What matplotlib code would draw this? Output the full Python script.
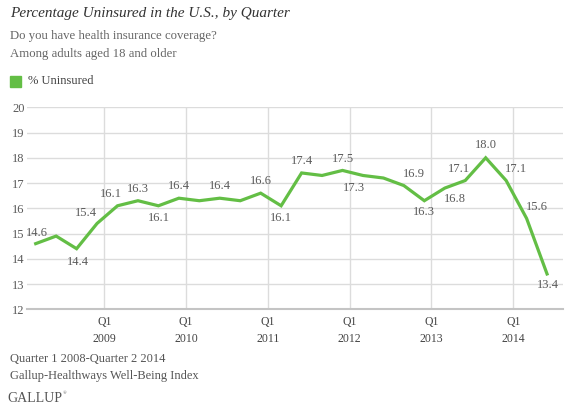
import matplotlib
matplotlib.use("Agg")
import matplotlib.pyplot as plt
from matplotlib.patches import Rectangle
import numpy as np

# quarterly values, Q1 2008 .. Q2 2014
uninsured = [14.6, 14.9, 14.4, 15.4, 16.1, 16.3, 16.1, 16.4, 16.3, 16.4, 16.3, 16.6, 16.1,
             17.4, 17.3, 17.5, 17.3, 17.2, 16.9, 16.3, 16.8, 17.1, 18.0, 17.1, 15.6, 13.4]
years = ["2009", "2010", "2011", "2012", "2013", "2014"]
yticks = [12, 13, 14, 15, 16, 17, 18, 19, 20]

# which points get a label and where it sits (pixels from the point)
label_offsets = {0: (1, 11), 2: (1, -13), 3: (-11, 10), 4: (-7, 12), 5: (0, 12),
                 6: (1, -12), 7: (0, 12), 9: (0, 12), 11: (0, 12), 12: (0, -12),
                 13: (0, 12), 15: (0, 11), 16: (-9, -13), 18: (10, 12), 19: (0, -11),
                 20: (10, -11), 21: (-6, 12), 22: (0, 13), 23: (10, 12), 24: (10, 11),
                 25: (1, -11)}

green = "#63be45"
grey = "#5a5a5a"
serif = ["Liberation Serif", "DejaVu Serif"]
plt.rcParams['font.family'] = serif

W, H = 570, 417
fig = plt.figure(figsize=(W / 100, H / 100), dpi=100)
ax = fig.add_axes([27.3 / W, 1 - 309.3 / H, (563 - 27.3) / W, (309.3 - 107.3) / H])

x = np.arange(len(uninsured))
ax.plot(x, uninsured, color=green, lw=2.3, solid_joinstyle='miter', zorder=3)

for i, (dx, dy) in label_offsets.items():
    ax.annotate("%.1f" % uninsured[i], (x[i], uninsured[i]), xytext=(dx, dy),
                textcoords='offset pixels', ha='center', va='center',
                fontsize=9, color=grey, zorder=4)

ax.set_xlim(-0.41, 25.78)
ax.set_ylim(12, 20)
ax.set_yticks(yticks)
ax.set_yticklabels([str(v) for v in yticks], fontsize=9, color=grey)
xt = [3.35 + 4 * k for k in range(len(years))]
ax.set_xticks(xt)
ax.set_xticklabels(["Q1\n" + y for y in years], fontsize=8.5, color="#444444",
                   linespacing=1.55)
ax.tick_params(axis='both', length=0)
ax.tick_params(axis='y', pad=2)
ax.tick_params(axis='x', pad=5)
ax.grid(True, color="#dcdcdc", lw=1)
ax.set_axisbelow(True)
for s in ["top", "right", "left"]:
    ax.spines[s].set_visible(False)
ax.spines["bottom"].set_color("#c4c4c4")
ax.spines["bottom"].set_linewidth(1.5)

def ftext(px, py, s, **kw):
    fig.text(px / W, 1 - py / H, s, va='center', ha='left', **kw)

ftext(10, 14, "Percentage Uninsured in the U.S., by Quarter", fontsize=11,
      style='italic', color="#333333")
ftext(10, 36, "Do you have health insurance coverage?", fontsize=9.2, color="#666666")
ftext(10, 54, "Among adults aged 18 and older", fontsize=9.2, color="#666666")
fig.add_artist(Rectangle((10 / W, 1 - 87 / H), 11 / W, 11 / H, color=green,
                         transform=fig.transFigure))
ftext(28, 81, "% Uninsured", fontsize=9, color="#444444")
ftext(10, 359, "Quarter 1 2008-Quarter 2 2014", fontsize=9, color="#555555")
ftext(10, 376, "Gallup-Healthways Well-Being Index", fontsize=9, color="#555555")
ftext(7, 398, "GALLUP", fontsize=10, color="#555555")
ftext(63, 393, "\u00ae", fontsize=3.5, color="#555555")

fig.savefig("out.png", dpi=100)
